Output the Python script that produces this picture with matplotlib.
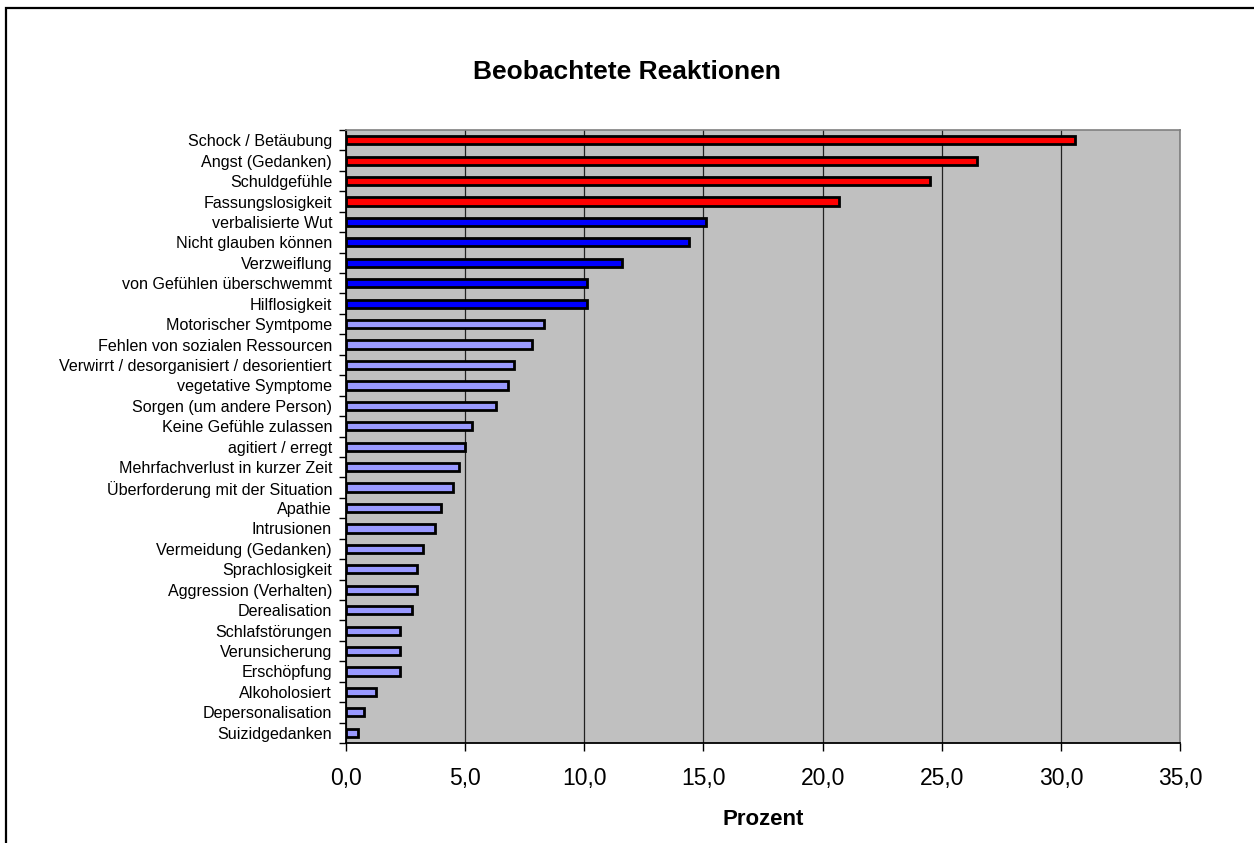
import matplotlib
matplotlib.use("Agg")
import matplotlib.pyplot as plt
from matplotlib.patches import Rectangle
from matplotlib.ticker import FuncFormatter, FixedLocator
import numpy as np

plt.rcParams['font.family'] = ['Liberation Sans', 'DejaVu Sans']

reaktionen = [
    "Schock / Betäubung", "Angst (Gedanken)", "Schuldgefühle", "Fassungslosigkeit",
    "verbalisierte Wut", "Nicht glauben können", "Verzweiflung",
    "von Gefühlen überschwemmt", "Hilflosigkeit", "Motorischer Symtpome",
    "Fehlen von sozialen Ressourcen", "Verwirrt / desorganisiert / desorientiert",
    "vegetative Symptome", "Sorgen (um andere Person)", "Keine Gefühle zulassen",
    "agitiert / erregt", "Mehrfachverlust in kurzer Zeit",
    "Überforderung mit der Situation", "Apathie", "Intrusionen",
    "Vermeidung (Gedanken)", "Sprachlosigkeit", "Aggression (Verhalten)",
    "Derealisation", "Schlafstörungen", "Verunsicherung", "Erschöpfung",
    "Alkoholosiert", "Depersonalisation", "Suizidgedanken",
]
prozent = [
    30.6, 26.5, 24.5, 20.7, 15.1, 14.4, 11.6, 10.1, 10.1, 8.3,
    7.8, 7.05, 6.8, 6.3, 5.3, 5.0, 4.75, 4.5, 4.0, 3.75,
    3.25, 3.0, 3.0, 2.75, 2.25, 2.25, 2.25, 1.25, 0.75, 0.5,
]
# Gruppe: 0 = häufig (rot), 1 = mittel (blau), 2 = selten (hellblau)
gruppe = [0] * 4 + [1] * 5 + [2] * 21
farben = ["#FF0000", "#0000FF", "#9999FF"]

fig = plt.figure(figsize=(12.54, 8.43), dpi=100)
W, H = 1254, 843

# Rahmen um das ganze Diagramm (rechts und unten angeschnitten)
fig.patches.append(Rectangle((5.5 / W, -0.05), 1.1, (843 - 8) / H + 0.05,
                             transform=fig.transFigure, fill=False,
                             edgecolor="black", linewidth=1.6))

ax = fig.add_axes([346 / W, (H - 743) / H, (1180 - 346) / W, (743 - 130) / H])
ax.set_facecolor("#C0C0C0")

y = np.arange(len(reaktionen))
ax.barh(y, prozent, height=0.40, color=[farben[g] for g in gruppe],
        edgecolor="black", linewidth=2.0, zorder=3)

ax.set_xlim(0, 35)
ax.set_ylim(len(reaktionen) - 0.5, -0.5)
ax.set_xticks(np.arange(0, 36, 5))
ax.xaxis.set_major_formatter(FuncFormatter(lambda v, p: f"{v:.1f}".replace(".", ",")))
ax.grid(axis="x", color="#222222", linewidth=0.9, zorder=1)

ax.set_yticks(y)
ax.set_yticklabels(reaktionen, fontsize=11.6)
ax.yaxis.set_minor_locator(FixedLocator(np.arange(-0.5, len(reaktionen), 1)))
ax.tick_params(axis="y", which="major", length=0, pad=10)
ax.tick_params(axis="y", which="minor", length=5, width=1, direction="out")
ax.tick_params(axis="x", which="major", length=6, width=1, direction="out",
               labelsize=16.5, pad=11)

for side in ("top", "right"):
    ax.spines[side].set_color("#808080")
    ax.spines[side].set_linewidth(1.2)
for side in ("left", "bottom"):
    ax.spines[side].set_color("black")
    ax.spines[side].set_linewidth(1.3)

ax.set_xlabel("Prozent", fontsize=16, fontweight="bold", labelpad=14)
fig.text(0.5, (H - 72) / H, "Beobachtete Reaktionen", ha="center", va="center",
         fontsize=19, fontweight="bold")

fig.savefig("out.png", dpi=100)
